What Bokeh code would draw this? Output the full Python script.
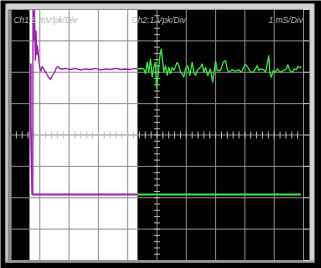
import numpy as np
from bokeh.plotting import figure
from bokeh.models import Range1d
from bokeh.core.properties import value
from bokeh.embed import file_html
from bokeh.resources import INLINE

# ---- data (time in ms = divisions, amplitude in divisions) ----
ch1_t = [0.761, 0.768, 0.802, 0.819, 0.846, 0.870, 0.898, 0.922, 0.945, 0.973,
         1.007, 1.041, 1.075, 1.109, 1.160, 1.212, 1.280, 1.365, 1.433, 1.502,
         1.570, 1.621, 1.672, 1.775, 1.877, 2.048, 2.218, 2.389, 2.560, 2.730,
         2.901, 3.072, 3.242, 3.413, 3.584, 3.754, 3.925, 4.096, 4.232, 4.334,
         4.437, 4.549, 4.608, 4.666, 4.720, 4.778, 4.836, 4.891, 4.949, 4.983,
         5.027, 5.096, 5.143, 5.188, 5.232, 5.290, 5.348, 5.403, 5.461, 5.519,
         5.573, 5.689, 5.744, 5.802, 5.860, 5.915, 5.973, 6.051, 6.119, 6.201,
         6.256, 6.314, 6.372, 6.485, 6.543, 6.597, 6.655, 6.734, 6.826, 6.900,
         6.997, 7.055, 7.167, 7.259, 7.338, 7.396, 7.451, 7.567, 7.679, 7.792,
         7.874, 7.962, 8.020, 8.099, 8.191, 8.283, 8.362, 8.420, 8.474, 8.532,
         8.645, 8.703, 8.761, 8.816, 8.850, 8.898, 8.966, 9.044, 9.102, 9.215,
         9.328, 9.420, 9.464, 9.532, 9.614, 9.693, 9.761, 9.805, 9.874, 9.922]
ch1_v = [-1.896, 4.000, 3.012, 4.000, 2.375, 3.331, 2.534, 2.853, 2.629, 2.311,
         2.120, 2.024, 2.183, 2.151, 2.056, 1.992, 1.865, 1.769, 1.896, 1.992,
         2.151, 2.183, 2.120, 2.104, 2.120, 2.088, 2.120, 2.072, 2.104, 2.088,
         2.120, 2.072, 2.104, 2.088, 2.120, 2.088, 2.104, 2.088, 2.120, 2.104,
         2.120, 2.110, 1.951, 2.320, 2.002, 2.429, 1.842, 2.161, 2.320, 1.473,
         1.842, 2.480, 2.747, 2.375, 2.002, 2.215, 1.896, 2.161, 1.951, 2.161,
         2.056, 2.320, 2.215, 2.002, 1.951, 1.842, 2.110, 2.215, 1.896, 2.320,
         2.002, 1.896, 2.056, 2.161, 2.269, 2.002, 2.161, 1.896, 2.110, 1.673,
         2.375, 2.056, 2.056, 2.320, 2.375, 2.110, 2.002, 2.078, 2.033, 2.078,
         2.002, 2.161, 2.247, 2.161, 2.002, 2.002, 2.110, 2.215, 2.056, 2.110,
         2.078, 2.002, 2.269, 2.534, 2.002, 1.842, 2.056, 2.002, 2.110, 2.002,
         2.056, 2.110, 2.247, 2.056, 2.002, 2.110, 2.078, 2.183, 2.142, 2.183]
ch2_t = [0.693, 0.693, 0.741, 9.915]
ch2_v = [2.279, 0.367, -1.896, -1.896]

x_divs = list(range(0, 11))
y_divs = list(range(-4, 5))
ch1_label = "Ch1:5 mV/pk/Div"
ch2_label = "Ch2:1 Vpk/Div"
time_label = "1 mS/Div"
zone = (0.648, 4.334)   # inverted (highlighted) time window

PURPLE = "#a21cb8"
GREEN = "#3ae83a"


def split(t, v, b):
    t = list(t); v = list(v)
    lt, lv, rt, rv = [], [], [], []
    for i in range(len(t)):
        if t[i] <= b:
            lt.append(t[i]); lv.append(v[i])
        if t[i] >= b:
            rt.append(t[i]); rv.append(v[i])
    for i in range(len(t) - 1):
        if t[i] < b < t[i + 1]:
            vb = v[i] + (v[i + 1] - v[i]) * (b - t[i]) / (t[i + 1] - t[i])
            lt.append(b); lv.append(vb)
            rt.insert(0, b); rv.insert(0, vb)
    return lt, lv, rt, rv


p = figure(width=321, height=268, output_backend="svg", toolbar_location=None,
           x_axis_type=None, y_axis_type=None,
           x_range=Range1d(-10 / 29.3, 311 / 29.3),
           y_range=Range1d(-133.5 / 31.375, 134.5 / 31.375),
           min_border=0, min_border_left=0, min_border_right=0,
           min_border_top=0, min_border_bottom=0)
p.background_fill_color = "black"
p.border_fill_color = "black"
p.outline_line_color = None
p.xgrid.visible = False
p.ygrid.visible = False

# bezel
p.quad(left=-0.171, right=10.375, bottom=-4.064, top=4.191, fill_color="#d2d2d2", line_color=None)
p.quad(left=-0.171, right=-0.085, bottom=-4.064, top=4.0, fill_color="#c4c4c4", line_color=None)
p.quad(left=-0.085, right=0.034, bottom=-4.064, top=4.0, fill_color="#8a8a8a", line_color=None)
p.quad(left=-0.171, right=10.375, bottom=-4.064, top=-4.0, fill_color="#9a9a9a", line_color=None)
p.quad(left=0.034, right=10.205, bottom=-4.0, top=4.0, fill_color="black", line_color=None)

# inverted window
p.quad(left=zone[0], right=zone[1], bottom=-4.0, top=4.0, fill_color="white", line_color=None)

# graticule
p.segment(x0=x_divs, x1=x_divs, y0=[-4] * len(x_divs), y1=[4] * len(x_divs),
          line_color="#8e8e8e", line_width=1)
p.segment(x0=[0] * len(y_divs), x1=[10] * len(y_divs), y0=y_divs, y1=y_divs,
          line_color="#8e8e8e", line_width=1)
p.segment(x0=[10] * len(y_divs), x1=[10.2] * len(y_divs), y0=y_divs, y1=y_divs,
          line_color="#d8d8d8", line_width=1)
mx = [k * 0.2 for k in range(1, 50)]
p.segment(x0=mx, x1=mx, y0=[-0.11] * len(mx), y1=[0.11] * len(mx),
          line_color="#bcbcbc", line_width=1)
my = [-4 + k * 0.2 for k in range(1, 40)]
p.segment(x0=[4.9] * len(my), x1=[5.1] * len(my), y0=my, y1=my,
          line_color="#bcbcbc", line_width=1)

# traces
for t, v, w in ((ch2_t, ch2_v, 1.8), (ch1_t, ch1_v, 1.3)):
    lt, lv, rt, rv = split(t, v, zone[1])
    p.line(lt, lv, line_color=PURPLE, line_width=w)
    p.line(rt, rv, line_color=GREEN, line_width=w)

# labels
common = dict(text_font=value("Liberation Sans"), text_font_size="8.5px",
              text_font_style="italic", text_color="#b4b4b4",
              text_baseline="alphabetic")
p.text(x=[0.1], y=[3.67], text=[ch1_label], text_align="left", **common)
p.text(x=[4.13], y=[3.67], text=[ch2_label], text_align="left", **common)
p.text(x=[9.98], y=[3.67], text=[time_label], text_align="right", **common)

open("out.html", "w").write(file_html(p, INLINE))
